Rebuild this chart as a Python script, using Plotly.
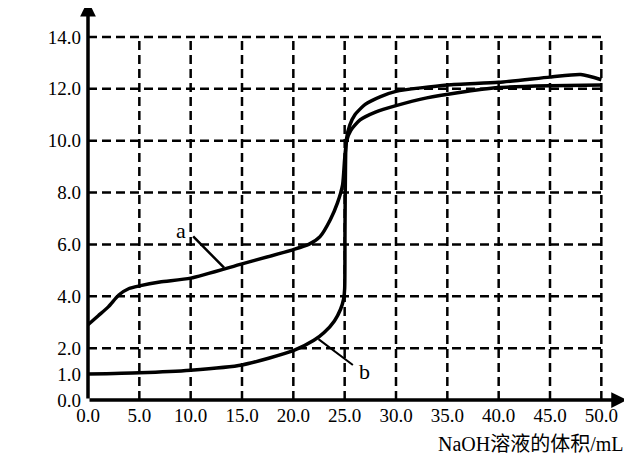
import plotly.graph_objects as go

# ---- data ----
a_x = [0, 1, 2, 3, 4, 5, 7, 10, 15, 20, 21.5, 22.6, 23.6, 24.3, 24.8, 25.0, 25.2, 25.6, 26.5, 28, 30, 33, 36, 40, 45, 50]
a_ph = [2.9, 3.25, 3.6, 4.05, 4.3, 4.4, 4.55, 4.7, 5.25, 5.8, 6.0, 6.3, 6.95, 7.6, 8.3, 9.3, 10.0, 10.4, 10.8, 11.1, 11.35, 11.65, 11.85, 12.05, 12.12, 12.15]

b_x = [0, 5, 10, 15, 20, 22, 23, 24, 24.6, 24.9, 25.0, 25.03, 25.08, 25.15, 25.5, 26, 27, 28.5, 30, 35, 40, 45, 48, 50]
b_ph = [1.0, 1.05, 1.15, 1.35, 1.9, 2.3, 2.6, 3.05, 3.5, 3.9, 4.3, 6.5, 9.0, 10.0, 10.6, 11.0, 11.4, 11.7, 11.9, 12.15, 12.25, 12.45, 12.55, 12.35]

x_ticks = [0, 5, 10, 15, 20, 25, 30, 35, 40, 45, 50]
x_ticktext = ["0.0", "5.0", "10.0", "15.0", "20.0", "25.0", "30.0", "35.0", "40.0", "45.0", "50.0"]
y_ticks = [0, 1, 2, 4, 6, 8, 10, 12, 14]
y_ticktext = ["0.0", "1.0", "2.0", "4.0", "6.0", "8.0", "10.0", "12.0", "14.0"]
grid_x = [5, 10, 15, 20, 25, 30, 35, 40, 45, 50]
grid_y = [2, 4, 6, 8, 10, 12, 14]

x_title = "NaOH溶液的体积/mL"
y_title = "pH"

FONT = "Liberation Serif, Times New Roman, Noto Sans CJK SC, serif"

fig = go.Figure()

line_style = dict(color="black", width=3.5, shape="spline", smoothing=0.6)
fig.add_trace(go.Scatter(x=a_x, y=a_ph, mode="lines", line=line_style, name="a", showlegend=False, hoverinfo="skip"))
fig.add_trace(go.Scatter(x=b_x, y=b_ph, mode="lines", line=line_style, name="b", showlegend=False, hoverinfo="skip"))

shapes = []
for gx in grid_x:
    shapes.append(dict(type="line", xref="x", yref="y", x0=gx, x1=gx, y0=0, y1=max(grid_y),
                       line=dict(color="black", width=2.5, dash="9px,5px"), layer="below"))
for gy in grid_y:
    shapes.append(dict(type="line", xref="x", yref="y", x0=0, x1=max(grid_x), y0=gy, y1=gy,
                       line=dict(color="black", width=2.5, dash="9px,5px"), layer="below"))

annotations = [
    # axes with arrowheads
    dict(x=52.5, y=0, ax=0, ay=0, xref="x", yref="y", axref="x", ayref="y", text="",
         showarrow=True, arrowhead=2, arrowsize=0.9, arrowwidth=3.5, arrowcolor="black"),
    dict(x=0, y=15.4, ax=0, ay=0, xref="x", yref="y", axref="x", ayref="y", text="",
         showarrow=True, arrowhead=2, arrowsize=0.9, arrowwidth=3.5, arrowcolor="black"),
    # curve labels with leader lines
    dict(x=13.25, y=5.1, ax=10.1, ay=6.37, xref="x", yref="y", axref="x", ayref="y", text="",
         showarrow=True, arrowhead=0, arrowwidth=2.5, arrowcolor="black"),
    dict(x=9.1, y=6.55, xref="x", yref="y", text="a", showarrow=False,
         font=dict(family=FONT, size=22, color="black")),
    dict(x=25.8, y=1.35, ax=22.3, ay=2.39, xref="x", yref="y", axref="x", ayref="y", text="",
         showarrow=True, arrowhead=0, arrowwidth=2, arrowcolor="black"),
    dict(x=26.9, y=1.1, xref="x", yref="y", text="b", showarrow=False,
         font=dict(family=FONT, size=22, color="black")),
    # axis titles
    dict(x=-6.2, y=12.85, xref="x", yref="y", text=y_title, showarrow=False,
         font=dict(family=FONT, size=20, color="black")),
    dict(x=1.0, y=0, xref="paper", yref="paper", xanchor="right", yanchor="top", yshift=-31, xshift=-1,
         text=x_title, showarrow=False, font=dict(family=FONT, size=20, color="black")),
]

# page body has an 8px margin; shrink the figure so the plot lands where the reference has it
fig.update_layout(
    width=624, height=447,
    margin=dict(l=80, r=5, t=3, b=55, autoexpand=False),
    plot_bgcolor="white", paper_bgcolor="white",
    shapes=shapes, annotations=annotations,
    font=dict(family=FONT, size=19, color="black"),
    xaxis=dict(range=[0, 52.5], tickvals=x_ticks, ticktext=x_ticktext, showgrid=False, zeroline=False,
               showline=False, ticks="", tickfont=dict(family=FONT, size=19, color="black"),
               fixedrange=True, automargin=False, ticklabelstandoff=2),
    yaxis=dict(range=[0, 15], tickvals=y_ticks, ticktext=y_ticktext, showgrid=False, zeroline=False,
               showline=False, ticks="", tickfont=dict(family=FONT, size=19, color="black"),
               fixedrange=True, automargin=False, ticklabelstandoff=6),
)

fig.write_html("out.html")
